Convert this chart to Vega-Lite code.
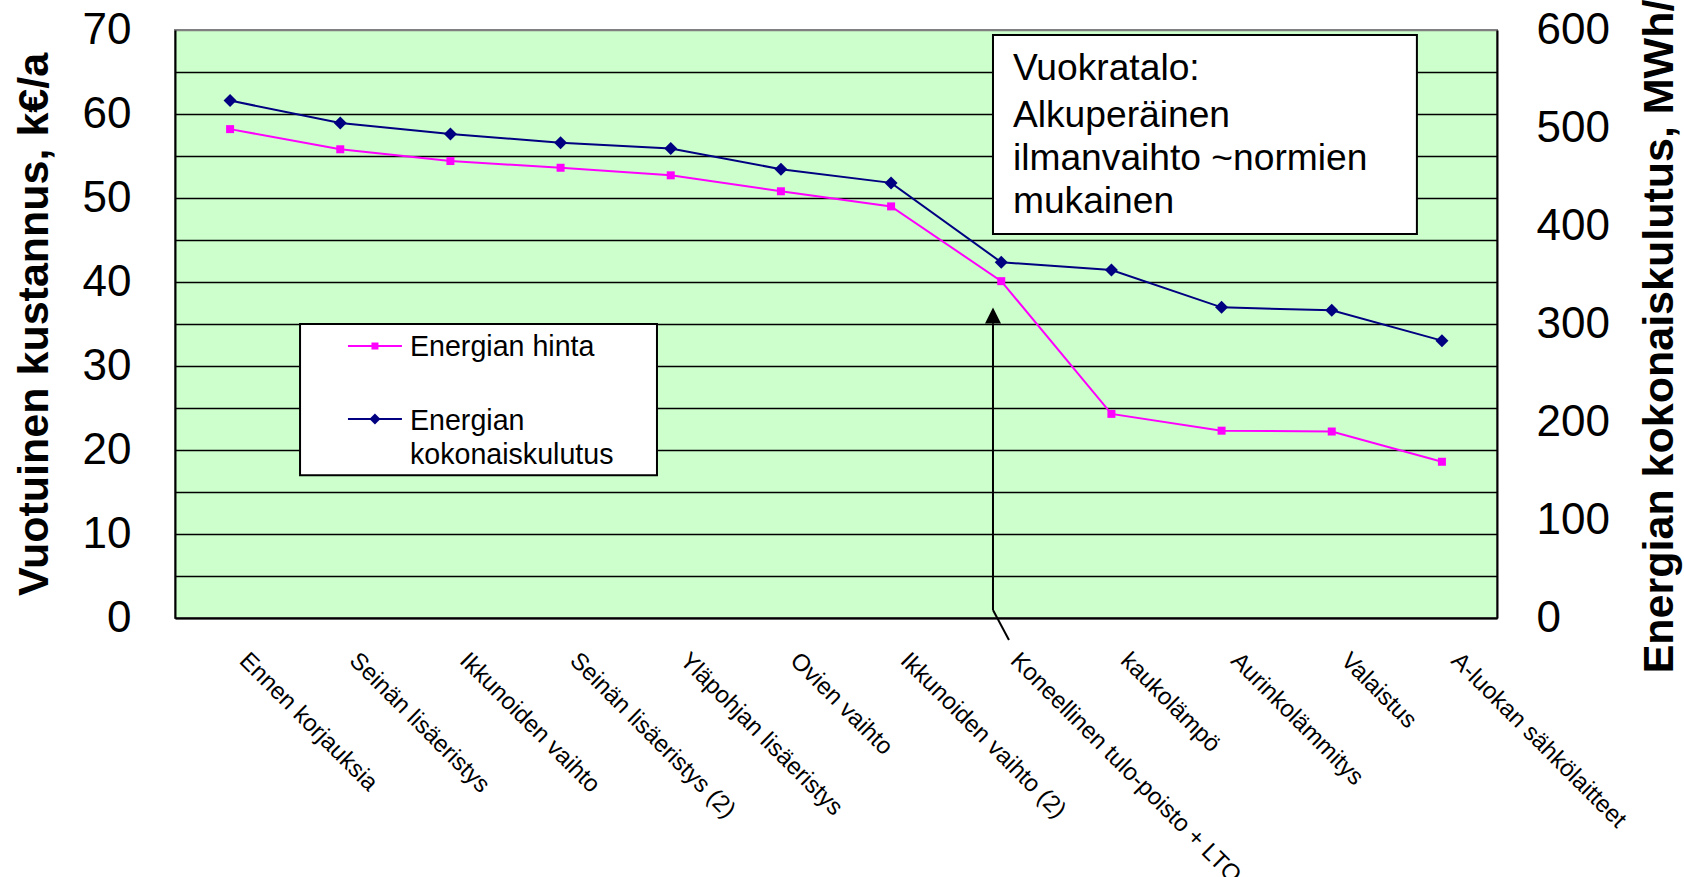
{
  "$schema": "https://vega.github.io/schema/vega-lite/v6.json",
  "width": 1322,
  "height": 588,
  "autosize": "none",
  "padding": {"left": 175, "top": 30, "right": 187, "bottom": 259},
  "background": "white",
  "config": {
    "font": "Liberation Sans",
    "view": {"fill": "#CCFFCC", "stroke": "#808080", "strokeWidth": 2},
    "axis": {"labelColor": "black", "titleColor": "black", "labelFont": "Liberation Sans", "titleFont": "Liberation Sans"}
  },
  "datasets": {
    "sarjat": [
      {"toimenpide": "Ennen korjauksia", "hinta": 58.2, "kulutus": 528},
      {"toimenpide": "Seinän lisäeristys", "hinta": 55.8, "kulutus": 505},
      {"toimenpide": "Ikkunoiden vaihto", "hinta": 54.4, "kulutus": 494},
      {"toimenpide": "Seinän lisäeristys (2)", "hinta": 53.6, "kulutus": 485},
      {"toimenpide": "Yläpohjan lisäeristys", "hinta": 52.7, "kulutus": 479},
      {"toimenpide": "Ovien vaihto", "hinta": 50.8, "kulutus": 458},
      {"toimenpide": "Ikkunoiden vaihto (2)", "hinta": 49.0, "kulutus": 444},
      {"toimenpide": "Koneellinen tulo-poisto + LTO", "hinta": 40.1, "kulutus": 363},
      {"toimenpide": "kaukolämpö", "hinta": 24.3, "kulutus": 355},
      {"toimenpide": "Aurinkolämmitys", "hinta": 22.3, "kulutus": 317},
      {"toimenpide": "Valaistus", "hinta": 22.2, "kulutus": 314},
      {"toimenpide": "A-luokan sähkölaitteet", "hinta": 18.6, "kulutus": 283}
    ],
    "laatikot": [
      {"laatikko": "selite", "x": 1.135, "x2": 4.375, "y": 17.0, "y2": 35.0},
      {"laatikko": "huomautus", "x": 7.425, "x2": 11.273, "y": 45.7, "y2": 69.4}
    ],
    "selite": [
      {"sarja": "Energian hinta", "x": 1.57, "x2": 2.06, "xm": 1.815, "y": 32.38},
      {"sarja": "Energian kokonaiskulutus", "x": 1.57, "x2": 2.06, "xm": 1.815, "y": 23.69}
    ],
    "selitetekstit": [
      {"teksti": "Energian hinta", "x": 2.133, "y": 31.19},
      {"teksti": "Energian", "x": 2.133, "y": 22.38},
      {"teksti": "kokonaiskulutus", "x": 2.133, "y": 18.33}
    ],
    "huomautus": [
      {"teksti": "Vuokratalo:", "x": 7.606, "y": 64.05},
      {"teksti": "Alkuperäinen", "x": 7.606, "y": 58.49},
      {"teksti": "ilmanvaihto ~normien", "x": 7.606, "y": 53.33},
      {"teksti": "mukainen", "x": 7.606, "y": 48.21}
    ],
    "nuoli": [
      {"x": 7.425, "x2": 7.425, "y": 35.1, "y2": 0.95},
      {"x": 7.425, "x2": 7.57, "y": 0.95, "y2": -2.62}
    ],
    "nuolenkarki": [
      {"x": 7.425, "y": 36.0}
    ]
  },
  "layer": [
    {
      "data": {"name": "sarjat"},
      "encoding": {
        "x": {
          "field": "toimenpide", "type": "ordinal", "sort": null,
          "axis": {
            "title": null, "labelAngle": 45, "labelAlign": "left", "labelBaseline": "top",
            "labelFontSize": 24, "labelPadding": 30, "labelOffset": 21, "labelLimit": 1000,
            "ticks": false, "tickSize": 0, "domainColor": "black", "domainWidth": 2, "grid": false
          }
        },
        "y": {
          "field": "hinta", "type": "quantitative",
          "scale": {"domain": [0, 70], "nice": false, "zero": true},
          "axis": {
            "title": "Vuotuinen kustannus, k€/a",
            "values": [0, 5, 10, 15, 20, 25, 30, 35, 40, 45, 50, 55, 60, 65, 70],
            "labelExpr": "datum.value % 10 === 0 ? datum.label : ''",
            "labelOverlap": false, "labelFlush": false,
            "grid": true, "gridWidth": 1.5,
            "gridColor": {"condition": {"test": "datum.value === 70", "value": "#808080"}, "value": "black"},
            "ticks": false, "tickSize": 0, "domainColor": "black", "domainWidth": 2,
            "labelFontSize": 44, "labelPadding": 44, "labelBaseline": "middle",
            "titleFontSize": 43, "titleFontWeight": "bold", "titleAngle": 270,
            "titleX": -141, "titleY": 294, "titleAlign": "center", "titleBaseline": "middle"
          }
        }
      },
      "layer": [
        {"mark": {"type": "line", "color": "#FF00FF", "strokeWidth": 2}},
        {"mark": {"type": "point", "shape": "square", "filled": true, "opacity": 1, "color": "#FF00FF", "size": 64}}
      ]
    },
    {
      "data": {"name": "sarjat"},
      "encoding": {
        "x": {"field": "toimenpide", "type": "ordinal", "sort": null, "axis": null},
        "y": {
          "field": "kulutus", "type": "quantitative",
          "scale": {"domain": [0, 600], "nice": false, "zero": true},
          "axis": {
            "orient": "right",
            "title": "Energian kokonaiskulutus, MWh/a",
            "values": [0, 100, 200, 300, 400, 500, 600],
            "labelOverlap": false, "labelFlush": false,
            "grid": false, "ticks": false, "tickSize": 0,
            "domainColor": "black", "domainWidth": 2,
            "labelFontSize": 44, "labelPadding": 39, "labelAlign": "left", "labelBaseline": "middle",
            "titleFontSize": 43, "titleFontWeight": "bold", "titleAngle": 270,
            "titleX": 162, "titleY": 294, "titleAlign": "center", "titleBaseline": "middle"
          }
        }
      },
      "layer": [
        {"mark": {"type": "line", "color": "#000080", "strokeWidth": 2}},
        {"mark": {"type": "point", "shape": "diamond", "filled": true, "opacity": 1, "color": "#000080", "size": 169}}
      ]
    },
    {
      "layer": [
        {
          "data": {"name": "laatikot"},
          "mark": {"type": "rect", "fill": "white", "stroke": "black", "strokeWidth": 2},
          "encoding": {
            "x": {"field": "x", "type": "quantitative", "scale": {"domain": [0, 12], "nice": false, "zero": false}, "axis": null},
            "x2": {"field": "x2"},
            "y": {"field": "y", "type": "quantitative", "scale": {"domain": [0, 70], "nice": false, "zero": false}, "axis": null},
            "y2": {"field": "y2"}
          }
        },
        {
          "data": {"name": "selite"},
          "mark": {"type": "rule", "strokeWidth": 2},
          "encoding": {
            "x": {"field": "x", "type": "quantitative", "scale": {"domain": [0, 12], "nice": false, "zero": false}, "axis": null},
            "x2": {"field": "x2"},
            "y": {"field": "y", "type": "quantitative", "scale": {"domain": [0, 70], "nice": false, "zero": false}, "axis": null},
            "color": {"field": "sarja", "type": "nominal", "scale": {"domain": ["Energian hinta", "Energian kokonaiskulutus"], "range": ["#FF00FF", "#000080"]}, "legend": null}
          }
        },
        {
          "data": {"name": "selite"},
          "mark": {"type": "point", "filled": true, "opacity": 1},
          "encoding": {
            "x": {"field": "xm", "type": "quantitative", "scale": {"domain": [0, 12], "nice": false, "zero": false}, "axis": null},
            "y": {"field": "y", "type": "quantitative", "scale": {"domain": [0, 70], "nice": false, "zero": false}, "axis": null},
            "color": {"field": "sarja", "type": "nominal", "scale": {"domain": ["Energian hinta", "Energian kokonaiskulutus"], "range": ["#FF00FF", "#000080"]}, "legend": null},
            "shape": {"field": "sarja", "type": "nominal", "scale": {"domain": ["Energian hinta", "Energian kokonaiskulutus"], "range": ["square", "diamond"]}, "legend": null},
            "size": {"field": "sarja", "type": "nominal", "scale": {"domain": ["Energian hinta", "Energian kokonaiskulutus"], "range": [49, 121]}, "legend": null}
          }
        },
        {
          "data": {"name": "selitetekstit"},
          "mark": {"type": "text", "align": "left", "baseline": "alphabetic", "fontSize": 28.6, "color": "black"},
          "encoding": {
            "x": {"field": "x", "type": "quantitative", "scale": {"domain": [0, 12], "nice": false, "zero": false}, "axis": null},
            "y": {"field": "y", "type": "quantitative", "scale": {"domain": [0, 70], "nice": false, "zero": false}, "axis": null},
            "text": {"field": "teksti"}
          }
        },
        {
          "data": {"name": "huomautus"},
          "mark": {"type": "text", "align": "left", "baseline": "alphabetic", "fontSize": 37.2, "color": "black"},
          "encoding": {
            "x": {"field": "x", "type": "quantitative", "scale": {"domain": [0, 12], "nice": false, "zero": false}, "axis": null},
            "y": {"field": "y", "type": "quantitative", "scale": {"domain": [0, 70], "nice": false, "zero": false}, "axis": null},
            "text": {"field": "teksti"}
          }
        },
        {
          "data": {"name": "nuoli"},
          "mark": {"type": "rule", "color": "black", "strokeWidth": 2},
          "encoding": {
            "x": {"field": "x", "type": "quantitative", "scale": {"domain": [0, 12], "nice": false, "zero": false}, "axis": null},
            "x2": {"field": "x2"},
            "y": {"field": "y", "type": "quantitative", "scale": {"domain": [0, 70], "nice": false, "zero": false}, "axis": null},
            "y2": {"field": "y2"}
          }
        },
        {
          "data": {"name": "nuolenkarki"},
          "mark": {"type": "point", "shape": "M0,-1L1,1L-1,1Z", "filled": true, "opacity": 1, "color": "black", "size": 256},
          "encoding": {
            "x": {"field": "x", "type": "quantitative", "scale": {"domain": [0, 12], "nice": false, "zero": false}, "axis": null},
            "y": {"field": "y", "type": "quantitative", "scale": {"domain": [0, 70], "nice": false, "zero": false}, "axis": null}
          }
        }
      ]
    }
  ],
  "resolve": {"scale": {"x": "independent", "y": "independent"}}
}
